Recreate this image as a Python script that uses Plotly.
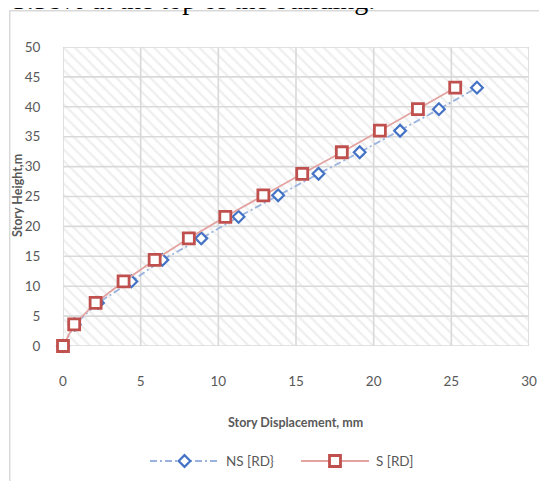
import plotly.graph_objects as go

# story heights (m) and displacements (mm)
story_height = [0, 3.6, 7.2, 10.8, 14.4, 18, 21.6, 25.2, 28.8, 32.4, 36, 39.6, 43.2]
ns_rd = [0, 0.75, 2.25, 4.4, 6.4, 8.9, 11.3, 13.85, 16.45, 19.1, 21.7, 24.2, 26.65]
s_rd = [0, 0.72, 2.1, 3.9, 5.9, 8.1, 10.45, 12.9, 15.4, 17.95, 20.4, 22.85, 25.25]

x_ticks = [0, 5, 10, 15, 20, 25, 30]
y_ticks = [0, 5, 10, 15, 20, 25, 30, 35, 40, 45, 50]

W, H = 547, 481
PAGE = 8  # default body margin of the html page
axis_grey = "#595959"
grid_grey = "#d9d9d9"
ns_marker, ns_line = "#4472c4", "#9ab3de"
s_marker, s_line = "#c0504d", "#e3a3a1"
ns_dash = "7px,3px,2px,3px"

# plot area in page pixels
px_l, px_r, px_t, px_b = 63, 529, 47, 346

FW, FH = W - PAGE, H - PAGE


def px(x):
    return (x - PAGE) / FW


def py(y):
    return 1 - (y - PAGE) / FH


fig = go.Figure()

# hatched plot-area background (Excel style)
fig.add_trace(go.Bar(
    x=[(x_ticks[0] + x_ticks[-1]) / 2], y=[y_ticks[-1] - y_ticks[0]], base=[y_ticks[0]],
    width=[x_ticks[-1] - x_ticks[0]],
    marker=dict(color="white", line_width=0,
                pattern=dict(shape="\\", fgcolor="#dedede", bgcolor="white", size=8, solidity=0.28)),
    hoverinfo="skip", showlegend=False
))

# gridlines drawn over the hatch
gx, gy = [], []
for t in x_ticks:
    gx += [t, t, None]
    gy += [y_ticks[0], y_ticks[-1], None]
for t in y_ticks:
    gx += [x_ticks[0], x_ticks[-1], None]
    gy += [t, t, None]
fig.add_trace(go.Scatter(x=gx, y=gy, mode="lines", line=dict(color=grid_grey, width=1.6),
                         hoverinfo="skip", showlegend=False))

fig.add_trace(go.Scatter(
    x=ns_rd, y=story_height, name="NS [RD}", mode="lines+markers",
    line=dict(color=ns_line, width=1.8, dash=ns_dash),
    marker=dict(symbol="diamond", size=9, color="white", line=dict(color=ns_marker, width=2.2)),
    cliponaxis=False, showlegend=False
))
fig.add_trace(go.Scatter(
    x=s_rd, y=story_height, name="S [RD]", mode="lines+markers",
    line=dict(color=s_line, width=1.8),
    marker=dict(symbol="square", size=11, color="white", line=dict(color=s_marker, width=2.8)),
    cliponaxis=False, showlegend=False
))

# hand-made legend on a pixel-space overlay axis
legend_items = [("NS [RD}", 150, 219, ns_line, ns_dash, "diamond", 9, ns_marker, 2.2),
                ("S [RD]", 301, 369, s_line, "solid", "square", 11, s_marker, 2.8)]
ly = 461
for name, x0, x1, lc, dash, sym, size, mc, mw in legend_items:
    fig.add_trace(go.Scatter(x=[x0, x1], y=[ly, ly], xaxis="x2", yaxis="y2", mode="lines",
                             line=dict(color=lc, width=1.8, dash=dash),
                             hoverinfo="skip", showlegend=False, cliponaxis=False))
    fig.add_trace(go.Scatter(x=[(x0 + x1) / 2], y=[ly], xaxis="x2", yaxis="y2", mode="markers",
                             marker=dict(symbol=sym, size=size, color="white", line=dict(color=mc, width=mw)),
                             hoverinfo="skip", showlegend=False, cliponaxis=False))
    fig.add_annotation(text=name, xref="paper", yref="paper", x=px(x1 + 5), y=py(ly),
                       xanchor="left", yanchor="middle", showarrow=False,
                       font=dict(family="Lato", size=13.5, color=axis_grey))

# outer chart frame (an empty bordered annotation)
fig.add_annotation(text=" ", xref="paper", yref="paper", x=px(8.5), y=py(9.5),
                   xanchor="left", yanchor="top", showarrow=False,
                   width=620, height=540, borderpad=0, borderwidth=1.5,
                   bordercolor=grid_grey, bgcolor="rgba(0,0,0,0)")

# clipped line of the surrounding document text
fig.add_annotation(text="in 3.58% at the top of the building.", xref="paper", yref="paper",
                   x=px(377), y=py(-1), xanchor="right", yanchor="middle",
                   showarrow=False, font=dict(family="Liberation Serif", size=28, color="black"))

fig.add_annotation(text="<b>Story Displacement, mm</b>", xref="paper", yref="paper",
                   x=px(295), y=py(422), xanchor="center", yanchor="middle", showarrow=False,
                   font=dict(family="Lato", size=12.5, color=axis_grey))
fig.add_annotation(text="<b>Story Height,m</b>", xref="paper", yref="paper",
                   x=px(17), y=py(196), xanchor="center", yanchor="middle", showarrow=False,
                   textangle=-90, font=dict(family="Lato", size=12.5, color=axis_grey))

fig.update_layout(
    xaxis=dict(domain=[px(px_l), px(px_r)], range=[x_ticks[0], x_ticks[-1]], tickvals=x_ticks,
               showgrid=False, zeroline=False, showline=False, ticks="outside", ticklen=23,
               tickcolor="rgba(0,0,0,0)", automargin=False,
               tickfont=dict(family="Lato", size=13.5, color=axis_grey)),
    yaxis=dict(domain=[py(px_b), py(px_t)], range=[y_ticks[0], y_ticks[-1]], tickvals=y_ticks,
               showgrid=False, zeroline=False, showline=False, ticks="outside", ticklen=19,
               tickcolor="rgba(0,0,0,0)", automargin=False,
               tickfont=dict(family="Lato", size=13.5, color=axis_grey)),
    xaxis2=dict(domain=[0, 1], range=[PAGE, W], visible=False, anchor="y2", fixedrange=True),
    yaxis2=dict(domain=[0, 1], range=[H, PAGE], visible=False, anchor="x2", fixedrange=True),
    width=FW, height=FH,
    margin=dict(l=0, r=0, t=0, b=0),
    plot_bgcolor="rgba(0,0,0,0)", paper_bgcolor="white",
    showlegend=False,
    bargap=0,
)

fig.write_html("out.html")
